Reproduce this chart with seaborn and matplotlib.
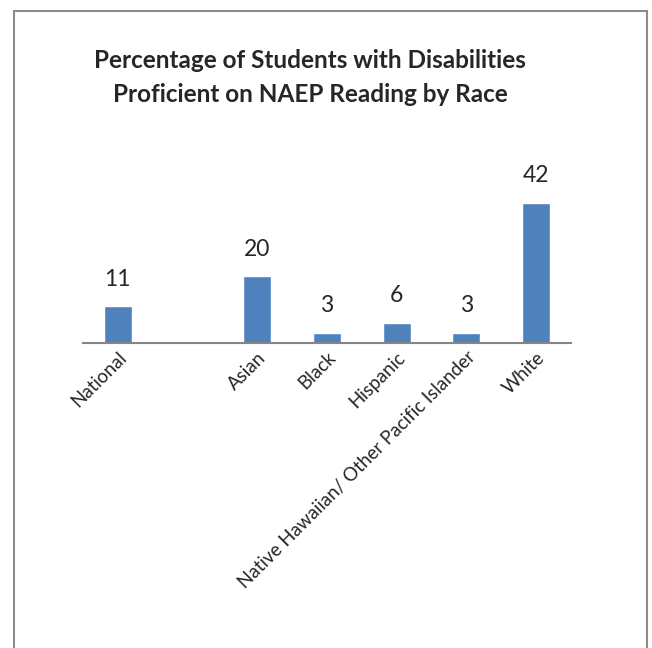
import matplotlib
matplotlib.use("Agg")
import matplotlib.pyplot as plt
import seaborn as sns
import pandas as pd
from matplotlib.patches import Rectangle

# data
categories = ["National", " ", "Asian", "Black", "Hispanic",
              "Native Hawaiian/ Other Pacific Islander", "White"]
values = [11, None, 20, 3, 6, 3, 42]

df = pd.DataFrame({"group": categories, "pct": values})

sns.set_style("white")
plt.rcParams["font.family"] = ["Lato", "DejaVu Sans"]

fig = plt.figure(figsize=(6.52, 6.48), dpi=100)
ax = fig.add_axes([83 / 652, 305 / 648, 488 / 652, 166.5 / 648])

sns.barplot(data=df.dropna(), x="group", y="pct", order=categories,
            color="#4F81BD", width=0.4, saturation=1, ax=ax)

ax.set_ylim(0, 50)
ax.set_xlim(-0.5, len(categories) - 0.5)
for c in ax.containers:
    ax.bar_label(c, fmt="%g", padding=12, fontsize=16.5)

ax.set_xlabel("")
ax.set_ylabel("")
ax.set_yticks([])
ax.tick_params(axis="x", length=0, pad=4)
plt.setp(ax.get_xticklabels(), rotation=45, ha="right",
         rotation_mode="anchor", fontsize=13.5)
for s in ["top", "right", "left"]:
    ax.spines[s].set_visible(False)
ax.spines["bottom"].set_color("#868686")
ax.spines["bottom"].set_linewidth(1.5)

fig.text(310 / 652, 1 - 60 / 648, "Percentage of Students with Disabilities",
         ha="center", va="center", fontsize=17.5, fontweight="bold")
fig.text(310 / 652, 1 - 95 / 648, "Proficient on NAEP Reading by Race",
         ha="center", va="center", fontsize=17.5, fontweight="bold")

# outer frame of the chart area
fig.patches.append(Rectangle((14 / 652, -0.05), 633 / 652, 1.05 - 11 / 648,
                             transform=fig.transFigure, fill=False,
                             edgecolor="#8c8c8c", linewidth=1.5))

fig.savefig("out.png", dpi=100)
